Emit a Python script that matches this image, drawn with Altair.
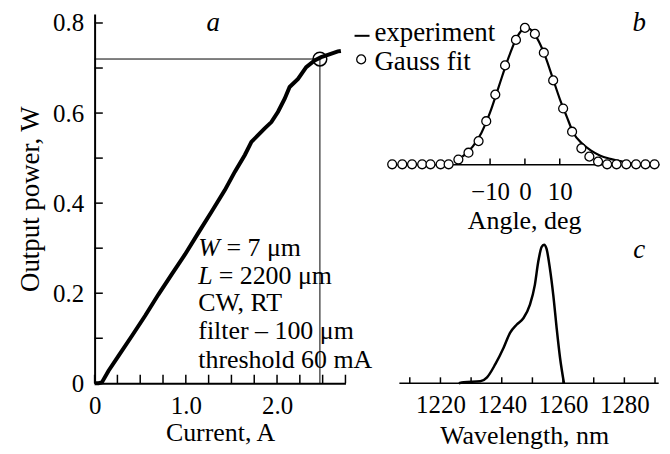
import altair as alt
import pandas as pd

FONT = "Liberation Serif"

# ---------------- panel a: output power vs current ----------------
current_a = [0.0, 0.044, 0.08, 0.153, 0.262, 0.408, 0.554, 0.699, 0.845, 0.991,
             1.137, 1.282, 1.428, 1.538, 1.647, 1.719, 1.792, 1.865, 1.938, 2.011,
             2.084, 2.138, 2.23, 2.32, 2.412, 2.484, 2.557, 2.667, 2.70]
power_w = [0.0, 0.0, 0.002, 0.028, 0.061, 0.105, 0.15, 0.197, 0.242, 0.286,
           0.334, 0.381, 0.429, 0.47, 0.507, 0.536, 0.551, 0.566, 0.58, 0.603,
           0.632, 0.658, 0.676, 0.702, 0.717, 0.724, 0.729, 0.737, 0.738]
op_current = [2.47]
op_power = [0.72]
a_xticks = [0, 0.25, 0.5, 0.75, 1.0, 1.25, 1.5, 1.75, 2.0, 2.25, 2.5, 2.75]
a_xlabels = [0, 1.0, 2.0]
a_yticks = [0, 0.1, 0.2, 0.3, 0.4, 0.5, 0.6, 0.7, 0.8]
a_ylabels = [0, 0.2, 0.4, 0.6, 0.8]

ann_italic = ["W", "L"]
ann_italic_x = [1.137, 1.137]
ann_italic_y = [0.282, 0.220]
ann_text = ["= 7 μm", "= 2200 μm", "CW, RT", "filter – 100 μm", "threshold 60 mA"]
ann_x = [1.445, 1.36, 1.137, 1.137, 1.137]
ann_y = [0.282, 0.220, 0.161, 0.098, 0.035]

# ---------------- panel b: far field ----------------
angle_fit = [-38.1, -35.2, -32.4, -29.5, -27.1, -24.2, -21.9, -19.1, -16.2, -13.3,
             -11.1, -8.5, -5.7, -2.57, 0.0, 2.86, 5.43, 8.11, 10.97, 13.54,
             16.2, 18.5, 21.0, 23.6, 26.3, 29.1, 31.9, 34.6, 37.2]
intensity_fit = [0.0, 0.0, 0.0, 0.0, 0.0, 0.0, 0.0, 0.035, 0.085, 0.17,
                 0.316, 0.511, 0.725, 0.912, 1.0, 0.956, 0.818, 0.615, 0.409, 0.239,
                 0.117, 0.056, 0.02, 0.0, 0.0, 0.0, 0.0, 0.0, 0.0]
angle_exp = [-20.0, -17.5, -15.0, -12.5, -10.0, -7.5, -5.0, -2.5, -1.0, 0.5, 2.0,
             4.0, 6.0, 8.0, 10.0, 12.0, 14.0, 16.5, 19.0, 21.5, 24.5, 28.0, 31.0]
intensity_exp = [0.02, 0.065, 0.13, 0.23, 0.38, 0.57, 0.76, 0.92, 0.98, 1.0, 0.98,
                 0.9, 0.78, 0.63, 0.48, 0.35, 0.225, 0.15, 0.1, 0.065, 0.04, 0.02, 0.005]
b_xticks = [-10, 0, 10]

# ---------------- panel c: spectrum ----------------
wavelength = [1226.0, 1227.6, 1233.0, 1235.2, 1237.9, 1240.6, 1242.7, 1244.9, 1247.1,
              1249.2, 1250.8, 1251.9, 1253.0, 1253.8, 1254.6, 1255.7, 1256.8, 1257.9,
              1259.0, 1260.3]
spectrum = [0.0, 0.007, 0.014, 0.043, 0.138, 0.257, 0.364, 0.424, 0.471, 0.567,
            0.71, 0.876, 0.983, 1.0, 0.971, 0.829, 0.638, 0.4, 0.186, 0.0]
wl_ticks = [1210, 1220, 1230, 1240, 1250, 1260, 1270, 1280, 1290]
wl_labels = [1220, 1240, 1260, 1280]
wl_axis_range = [1206.6, 1291.2]

# ================= panel a =================
A_W, A_H = 252, 371
xa_scale = alt.Scale(domain=[0, 2.75], nice=False, zero=False)
ya_scale = alt.Scale(domain=[0, 0.82], nice=False, zero=False)
xa_axis = alt.Axis(
    title="Current, A", values=a_xlabels, ticks=False,
    labelExpr="datum.value == 0 ? '0' : format(datum.value, '.1f')",
    labelPadding=10, titlePadding=1, domainWidth=2,
    labelFlush=False, labelOverlap=False,
)
ya_axis = alt.Axis(
    title="Output power, W", values=a_ylabels, ticks=False,
    labelExpr="datum.value == 0 ? '0' : format(datum.value, '.1f')",
    labelPadding=11, titlePadding=8, titleFontSize=27, domainWidth=2,
    labelFlush=False, labelOverlap=False,
)
df_a = pd.DataFrame({"I": current_a, "P": power_w})
df_op = pd.DataFrame({"I": op_current, "P": op_power, "I0": [0.0], "P0": [0.0]})

curve_a = alt.Chart(df_a).mark_line(color="black", strokeWidth=4).encode(
    x=alt.X("I:Q", scale=xa_scale, axis=xa_axis),
    y=alt.Y("P:Q", scale=ya_scale, axis=ya_axis),
)
# inward tick marks
df_axt = pd.DataFrame({"I": a_xticks, "P0": [0.0] * len(a_xticks), "P1": [0.019] * len(a_xticks)})
df_ayt = pd.DataFrame({"P": a_yticks, "I0": [0.0] * len(a_yticks), "I1": [0.09] * len(a_yticks)})
xticks_a = alt.Chart(df_axt).mark_rule(color="black", strokeWidth=1.5).encode(
    x="I:Q", y="P0:Q", y2="P1:Q")
yticks_a = alt.Chart(df_ayt).mark_rule(color="black", strokeWidth=1.5).encode(
    y="P:Q", x="I0:Q", x2="I1:Q")
hline = alt.Chart(df_op).mark_rule(color="black", strokeWidth=1).encode(
    x="I0:Q", x2="I:Q", y="P:Q")
vline = alt.Chart(df_op).mark_rule(color="black", strokeWidth=1).encode(
    x="I:Q", y="P0:Q", y2="P:Q")
op_circle = alt.Chart(df_op).mark_point(shape="circle", size=190, filled=False,
                                         color="black", strokeWidth=1.5, opacity=1).encode(
    x="I:Q", y="P:Q")
df_ann_i = pd.DataFrame({"x": ann_italic_x, "y": ann_italic_y, "t": ann_italic})
df_ann = pd.DataFrame({"x": ann_x, "y": ann_y, "t": ann_text})
ann_i = alt.Chart(df_ann_i).mark_text(font=FONT, fontSize=26, fontStyle="italic", align="left",
                                      baseline="alphabetic", color="black").encode(
    x="x:Q", y="y:Q", text="t:N")
ann = alt.Chart(df_ann).mark_text(font=FONT, fontSize=26, align="left",
                                  baseline="alphabetic", color="black").encode(
    x="x:Q", y="y:Q", text="t:N")
lab_a = alt.Chart(pd.DataFrame({"x": [1.30], "y": [0.80], "t": ["a"]})).mark_text(
    font=FONT, fontSize=27, fontStyle="italic", align="center", baseline="middle", color="black"
).encode(x="x:Q", y="y:Q", text="t:N")

panel_a = alt.layer(curve_a, xticks_a, yticks_a, hline, vline, op_circle, ann_i, ann, lab_a).properties(
    width=A_W, height=A_H)

# ================= panel b =================
B_W, B_H = 271, 151
xb_scale = alt.Scale(domain=[-38.94, 38.49], nice=False, zero=False)
yb_scale = alt.Scale(domain=[0, 1.102], nice=False, zero=False)
xb_axis = alt.Axis(title="Angle, deg", values=b_xticks, ticks=False,
                   labelExpr="datum.value < 0 ? '\u2212' + abs(datum.value) : '' + datum.value",
                   labelPadding=15, titlePadding=3,
                   domainWidth=1.5, labelFlush=False)
df_fit = pd.DataFrame({"a": angle_fit, "v": intensity_fit})
df_exp = pd.DataFrame({"a": angle_exp, "v": intensity_exp})
exp_line = alt.Chart(df_exp).mark_line(color="black", strokeWidth=2.2, interpolate="monotone").encode(
    x=alt.X("a:Q", scale=xb_scale, axis=xb_axis),
    y=alt.Y("v:Q", scale=yb_scale, axis=None),
)
df_bt = pd.DataFrame({"a": b_xticks, "v0": [0.0] * 3, "v1": [0.043] * 3})
xticks_b = alt.Chart(df_bt).mark_rule(color="black", strokeWidth=1.5).encode(
    x="a:Q", y="v0:Q", y2="v1:Q")
fit_pts = alt.Chart(df_fit).mark_point(shape="circle", size=80, filled=True, fill="white",
                                        stroke="black", strokeWidth=1.3, opacity=1).encode(
    x="a:Q", y="v:Q")
leg_line = alt.Chart(pd.DataFrame({"x1": [-48.9], "x2": [-44.6], "y": [0.942]})).mark_rule(
    color="black", strokeWidth=2).encode(x="x1:Q", x2="x2:Q", y="y:Q")
leg_pt = alt.Chart(pd.DataFrame({"x": [-47.0], "y": [0.769]})).mark_point(
    shape="circle", size=80, filled=True, fill="white", stroke="black", strokeWidth=1.3, opacity=1
).encode(x="x:Q", y="y:Q")
leg_txt = alt.Chart(pd.DataFrame({"x": [-43.2, -43.2], "y": [0.965, 0.75],
                                  "t": ["experiment", "Gauss fit"]})).mark_text(
    font=FONT, fontSize=27, align="left", baseline="middle", color="black"
).encode(x="x:Q", y="y:Q", text="t:N")
lab_b = alt.Chart(pd.DataFrame({"x": [32.8], "y": [1.036], "t": ["b"]})).mark_text(
    font=FONT, fontSize=27, fontStyle="italic", align="center", baseline="middle", color="black"
).encode(x="x:Q", y="y:Q", text="t:N")
panel_b = alt.layer(exp_line, xticks_b, fit_pts, leg_line, leg_pt, leg_txt, lab_b).properties(
    width=B_W, height=B_H)

# ================= panel c =================
C_W, C_H = 271, 150
xc_scale = alt.Scale(domain=[1203.3, 1291.3], nice=False, zero=False)
yc_scale = alt.Scale(domain=[0, 1.077], nice=False, zero=False)
xc_axis = alt.Axis(title="Wavelength, nm", values=wl_labels, ticks=False, format="d",
                   labelPadding=9, titlePadding=5,
                   domain=False, labelFlush=False, labelOverlap=False)
df_c = pd.DataFrame({"w": wavelength, "s": spectrum})
spec_line = alt.Chart(df_c).mark_line(color="black", strokeWidth=2.5, interpolate="monotone").encode(
    x=alt.X("w:Q", scale=xc_scale, axis=xc_axis),
    y=alt.Y("s:Q", scale=yc_scale, axis=None),
)
df_ct = pd.DataFrame({"w": wl_ticks, "s0": [0.0] * len(wl_ticks), "s1": [0.043] * len(wl_ticks)})
xticks_c = alt.Chart(df_ct).mark_rule(color="black", strokeWidth=1.5).encode(
    x="w:Q", y="s0:Q", y2="s1:Q")
c_axis_line = alt.Chart(pd.DataFrame({"w1": [wl_axis_range[0]], "w2": [wl_axis_range[1]], "y": [0.0]})).mark_rule(
    color="black", strokeWidth=1.5).encode(x="w1:Q", x2="w2:Q", y="y:Q")
lab_c = alt.Chart(pd.DataFrame({"x": [1284.8], "y": [0.962], "t": ["c"]})).mark_text(
    font=FONT, fontSize=27, fontStyle="italic", align="center", baseline="middle", color="black"
).encode(x="x:Q", y="y:Q", text="t:N")
panel_c = alt.layer(spec_line, c_axis_line, xticks_c, lab_c).properties(width=C_W, height=C_H)

right = alt.vconcat(panel_b, panel_c, spacing=70, bounds="flush")
chart = alt.hconcat(panel_a, right, spacing=44, bounds="flush").properties(
    padding={"left": 8, "top": 0, "right": 0, "bottom": 0}
).configure_view(stroke=None).configure_axis(
    labelFont=FONT, labelFontSize=25, labelColor="black",
    titleFont=FONT, titleFontSize=26, titleFontWeight="normal", titleColor="black",
    domainColor="black", grid=False,
)

chart.save("out.html", embed_options={"renderer": "svg", "actions": False})
